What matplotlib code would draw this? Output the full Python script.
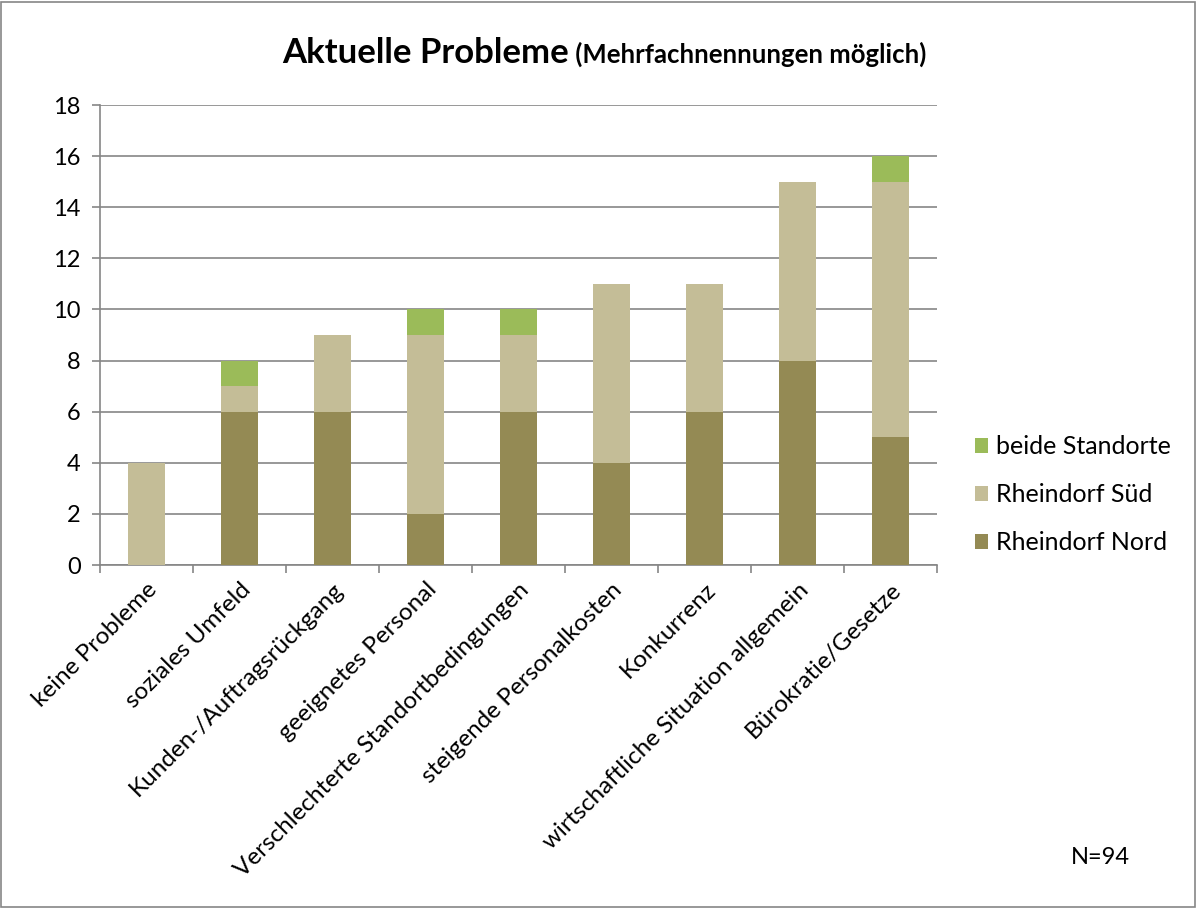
import matplotlib
matplotlib.use("Agg")
import matplotlib.pyplot as plt
import numpy as np
from matplotlib.patches import Rectangle

categories = ["keine Probleme", "soziales Umfeld", "Kunden-/Auftragsrückgang",
              "geeignetes Personal", "Verschlechterte Standortbedingungen",
              "steigende Personalkosten", "Konkurrenz",
              "wirtschaftliche Situation allgemein", "Bürokratie/Gesetze"]
nord = [0, 6, 6, 2, 6, 4, 6, 8, 5]
sued = [4, 1, 3, 7, 3, 7, 5, 7, 10]
beide = [0, 1, 0, 1, 1, 0, 0, 0, 1]
series_names = ["Rheindorf Nord", "Rheindorf Süd", "beide Standorte"]
colors = ["#948A54", "#C4BD97", "#9BBB59"]
yticks = list(range(0, 19, 2))

plt.rcParams['font.family'] = ['Lato', 'DejaVu Sans']

fig = plt.figure(figsize=(11.97, 9.08), dpi=100)
ax = fig.add_axes([100/1197, 1-565/908, 837/1197, 460/908])

x = np.arange(len(categories))
w = 0.4
b1 = ax.bar(x, nord, w, color=colors[0], label=series_names[0], zorder=3)
b2 = ax.bar(x, sued, w, bottom=nord, color=colors[1], label=series_names[1], zorder=3)
bot = np.array(nord) + np.array(sued)
b3 = ax.bar(x, beide, w, bottom=bot, color=colors[2], label=series_names[2], zorder=3)

ax.set_xlim(-0.5, len(categories) - 0.5)
ax.set_ylim(0, 18)
ax.set_yticks(yticks)
ax.set_yticklabels([str(v) for v in yticks], fontsize=17)
ax.yaxis.grid(True, color="#868686", linewidth=1.2, zorder=0)
ax.set_axisbelow(True)

ax.set_xticks(np.arange(-0.5, len(categories), 1.0))
ax.set_xticklabels([])
ax.set_xticks(x, minor=True)
ax.set_xticklabels(categories, minor=True, rotation=45, ha='right',
                   rotation_mode='anchor', fontsize=17.5)
ax.tick_params(axis='x', which='minor', length=0, pad=10)
ax.tick_params(axis='x', which='major', length=6, color="#868686", width=1.2)
ax.tick_params(axis='y', length=6, color="#868686", width=1.2, pad=8)

for s in ['top', 'right']:
    ax.spines[s].set_visible(False)
for s in ['left', 'bottom']:
    ax.spines[s].set_color("#868686")
    ax.spines[s].set_linewidth(1.2)

handles = [b3, b2, b1]
leg = fig.legend(handles, [series_names[2], series_names[1], series_names[0]],
                 loc='center left', bbox_to_anchor=(952/1197, 1-495/908),
                 frameon=False, fontsize=18, handlelength=0.55, handleheight=0.55,
                 handletextpad=0.3, labelspacing=1.0)

# Title
fig.canvas.draw()
r = fig.canvas.get_renderer()
t1 = fig.text(0, 1-63/908, "Aktuelle Probleme", fontsize=25, fontweight='bold')
t2 = fig.text(0, 1-63/908, " (Mehrfachnennungen möglich)", fontsize=18.5, fontweight='bold')
w1 = t1.get_window_extent(r).width
w2 = t2.get_window_extent(r).width
start = 604 - (w1 + w2) / 2
t1.set_x(start / 1197)
t2.set_x((start + w1) / 1197)

fig.text(1100/1197, 1-857/908, "N=94", fontsize=17, ha='center', va='center')

fig.patches.append(Rectangle((0.001, 0.001), 0.997, 0.997, transform=fig.transFigure,
                             fill=False, edgecolor="#868686", linewidth=1.2))

fig.savefig("out.png", dpi=100)
